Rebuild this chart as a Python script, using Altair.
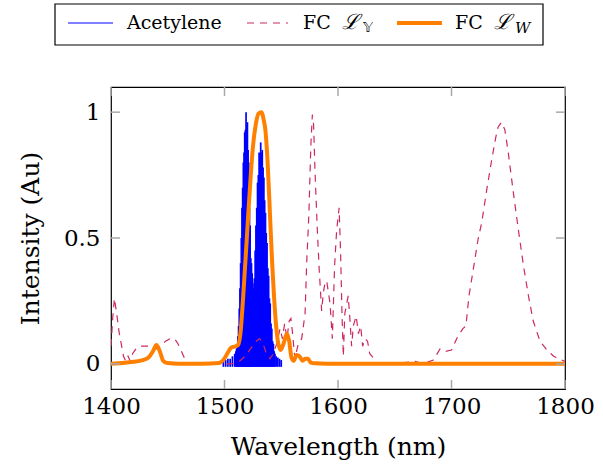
import altair as alt
import pandas as pd

# ---------------- data ----------------
# Acetylene absorption lines (wavelength nm, intensity)
acet_wl = [1499.0, 1501.0, 1503.0, 1505.0, 1507.0, 1509.0, 1510.0, 1510.6, 1511.2, 1511.8,
           1512.4, 1513.0, 1513.6, 1514.2, 1514.8, 1515.4, 1516.0, 1516.6, 1517.2, 1517.8,
           1518.4, 1519.0, 1519.6, 1520.2, 1520.8, 1521.4, 1522.0, 1522.6, 1523.2, 1523.8,
           1524.4, 1525.0, 1525.6, 1526.3, 1527.0, 1527.7, 1528.4, 1529.1, 1529.8, 1530.5,
           1531.2, 1531.9, 1532.6, 1533.3, 1534.0, 1534.7, 1535.4, 1536.1, 1536.8, 1537.5,
           1538.2, 1538.9, 1539.6, 1540.3, 1541.0, 1541.7, 1542.4, 1543.1, 1543.8, 1544.5,
           1545.5, 1547.0, 1548.5, 1550.0]
acet_val = [0.01, 0.015, 0.02, 0.02, 0.03, 0.04, 0.05, 0.06, 0.08, 0.11,
            0.15, 0.22, 0.30, 0.40, 0.50, 0.62, 0.70, 0.80, 0.84, 0.92,
            0.93, 1.00, 0.95, 0.96, 0.85, 0.80, 0.62, 0.55, 0.42, 0.40,
            0.36, 0.32, 0.30, 0.34, 0.45, 0.55, 0.62, 0.72, 0.75, 0.84,
            0.82, 0.88, 0.84, 0.85, 0.78, 0.74, 0.65, 0.60, 0.52, 0.48,
            0.38, 0.35, 0.26, 0.24, 0.16, 0.14, 0.09, 0.08, 0.05, 0.04,
            0.03, 0.025, 0.02, 0.015]

# FC L_Y (dashed)
fcy_wl = [1400, 1401.5, 1403, 1405, 1407, 1409, 1411, 1413, 1415, 1417, 1419, 1422, 1425, 1430,
          1435, 1440, 1444, 1448, 1452, 1456, 1459, 1462, 1465, 1468, 1475, 1490, 1505, 1512,
          1518, 1523, 1528, 1531, 1534, 1537, 1540, 1543, 1546, 1549, 1551, 1553, 1555, 1557,
          1558.5, 1560, 1562, 1565, 1568, 1571, 1572.4, 1574.4, 1576, 1577.4, 1578.5, 1579.7,
          1581.8, 1583.5, 1585.6, 1587, 1588.5, 1590, 1593, 1595, 1597, 1598.8, 1601, 1602.3,
          1603.5, 1604.7, 1606, 1609, 1610.6, 1612, 1613.5, 1616, 1618, 1620, 1621.7, 1623.8,
          1626, 1628, 1630, 1632.6, 1635.5, 1650, 1668, 1675, 1684, 1690, 1695, 1700, 1705.6,
          1710, 1712.7, 1715.4, 1719, 1723.6, 1726.6, 1731, 1735.4, 1739, 1741, 1744, 1747,
          1750, 1754.5, 1759, 1763.4, 1767.8, 1772, 1778, 1784, 1790, 1797, 1800]
fcy_val = [0.07, 0.18, 0.26, 0.20, 0.13, 0.08, 0.03, 0.01, 0.03, 0.01, 0.04, 0.06, 0.07, 0.07,
           0.07, 0.06, 0.07, 0.09, 0.10, 0.10, 0.08, 0.05, 0.02, 0.005, 0.0, 0.0, 0.0, 0.005,
           0.03, 0.06, 0.09, 0.10, 0.08, 0.04, 0.02, 0.04, 0.08, 0.14, 0.10, 0.16, 0.10, 0.17,
           0.18, 0.12, 0.02, 0.08, 0.10, 0.20, 0.40, 0.60, 0.86, 0.99, 0.95, 0.77,
           0.53, 0.37, 0.21, 0.28, 0.32, 0.33, 0.24, 0.10, 0.39, 0.53, 0.62, 0.44,
           0.20, 0.03, 0.20, 0.27, 0.17, 0.07, 0.15, 0.19, 0.12, 0.15, 0.07, 0.10,
           0.09, 0.04, 0.03, 0.015, 0.0, 0.0, 0.01, 0.0, 0.015, 0.06, 0.05, 0.055, 0.11,
           0.14, 0.15, 0.27, 0.37, 0.50, 0.56, 0.69, 0.81, 0.90, 0.94, 0.96, 0.93,
           0.84, 0.68, 0.53, 0.39, 0.27, 0.17, 0.09, 0.055, 0.03, 0.015, 0.01]

# FC L_W (thick orange)
fcw_wl = [1400, 1410, 1420, 1428, 1433, 1437, 1440, 1443, 1446, 1450, 1460, 1480, 1495, 1499,
          1503, 1506, 1510, 1512, 1514, 1516.5, 1519, 1521, 1523, 1525, 1527.5, 1530, 1532.5,
          1534.5, 1536, 1538, 1540, 1542, 1543.6, 1545.5, 1547.4, 1549.5, 1552, 1555, 1557,
          1559, 1561, 1563.5, 1566, 1569, 1571, 1573.5, 1576, 1580, 1600, 1700, 1800]
fcw_val = [0.0, 0.003, 0.008, 0.015, 0.025, 0.05, 0.075, 0.05, 0.012, 0.003, 0.0, 0.0, 0.003, 0.015,
           0.045, 0.065, 0.07, 0.075, 0.12, 0.27, 0.45, 0.60, 0.74, 0.86, 0.95, 0.995, 1.0,
           0.97, 0.93, 0.80, 0.60, 0.40, 0.27, 0.15, 0.08, 0.055, 0.08, 0.12, 0.09,
           0.025, 0.012, 0.035, 0.03, 0.012, 0.02, 0.02, 0.005, 0.002, 0.0, 0.0, 0.0]

x_ticks = [1400, 1500, 1600, 1700, 1800]
y_ticks = [0, 0.5, 1]

# ---------------- chart ----------------
W, H = 454, 302
FONT = "DejaVu Serif"
BLUE = "#0000ff"
CRIMSON = "#cc2a5e"
ORANGE = "#ff8000"
TICK = "#a8a8a8"

xs = alt.Scale(domain=[1400, 1800], nice=False, zero=False)
ys = alt.Scale(domain=[-0.1, 1.1], nice=False, zero=False)
xaxis = alt.Axis(values=x_ticks, format="d", title="Wavelength (nm)", ticks=False, domain=False,
                 grid=False, labelPadding=6, titlePadding=16, labelFlush=False,
                 labelFont=FONT, labelFontSize=23, labelColor="black",
                 titleFont=FONT, titleFontSize=25, titleFontWeight="normal", titleColor="black")
yaxis = alt.Axis(values=y_ticks, format="~g", title="Intensity (Au)", ticks=False, domain=False,
                 grid=False, labelPadding=11, titlePadding=20, labelFlush=False,
                 labelFont=FONT, labelFontSize=23, labelColor="black",
                 titleFont=FONT, titleFontSize=25, titleFontWeight="normal", titleColor="black")
X = alt.X("wl:Q", scale=xs, axis=xaxis)
Y = alt.Y("val:Q", scale=ys, axis=yaxis)

acet = pd.DataFrame({"wl": acet_wl, "val": acet_val})
acet["lo"] = -0.012
fcy = pd.DataFrame({"wl": fcy_wl, "val": fcy_val})
fcw = pd.DataFrame({"wl": fcw_wl, "val": fcw_val})
xt = pd.DataFrame({"wl": x_ticks})
yt = pd.DataFrame({"val": y_ticks})
one = pd.DataFrame({"k": [0]})

blue = alt.Chart(acet).mark_rule(color=BLUE, strokeWidth=1.7, clip=True).encode(
    x=X, y=Y, y2="lo:Q")
dashed = alt.Chart(fcy).mark_line(color=CRIMSON, strokeWidth=1.2, strokeDash=[7, 6], clip=True).encode(
    x=X, y=Y, order="wl:Q")
orange = alt.Chart(fcw).mark_line(color=ORANGE, strokeWidth=4, interpolate="monotone", clip=True).encode(
    x=X, y=Y, order="wl:Q")

tick_b = alt.Chart(xt).mark_rule(color=TICK, strokeWidth=1.5).encode(
    x=X, y=alt.value(H), y2=alt.value(H - 9))
tick_t = alt.Chart(xt).mark_rule(color=TICK, strokeWidth=1.5).encode(
    x=X, y=alt.value(0), y2=alt.value(9))
tick_l = alt.Chart(yt).mark_rule(color=TICK, strokeWidth=1.5).encode(
    y=Y, x=alt.value(0), x2=alt.value(9))
tick_r = alt.Chart(yt).mark_rule(color=TICK, strokeWidth=1.5).encode(
    y=Y, x=alt.value(W - 9), x2=alt.value(W))

# ---- manual legend (above plot) ----
LY = -64
box = alt.Chart(one).mark_rect(fill="white", stroke="black", strokeWidth=1.2).encode(
    x=alt.value(-56), x2=alt.value(432), y=alt.value(-83), y2=alt.value(-42))
l1 = alt.Chart(one).mark_rule(color=BLUE, strokeWidth=1.2).encode(
    x=alt.value(-43), x2=alt.value(2), y=alt.value(LY))
l2 = alt.Chart(one).mark_rule(color=CRIMSON, strokeWidth=1.2, strokeDash=[7, 6]).encode(
    x=alt.value(136), x2=alt.value(177), y=alt.value(LY))
l3 = alt.Chart(one).mark_rule(color=ORANGE, strokeWidth=4).encode(
    x=alt.value(286), x2=alt.value(331), y=alt.value(LY))


def txt(s, x, y, size=19, font=FONT, style="normal"):
    return alt.Chart(one).mark_text(text=s, align="left", baseline="middle", font=font,
                                    fontSize=size, fontStyle=style, color="black").encode(
        x=alt.value(x), y=alt.value(y))


legend = [box, l1, l2, l3,
          txt("Acetylene", 16, LY),
          txt("FC", 192, LY),
          txt("ℒ", 231, LY, size=21, font="DejaVu Serif", style="italic"),
          txt("𝕐", 252, LY + 5, size=14, font="DejaVu Sans"),
          txt("FC", 344, LY),
          txt("ℒ", 383, LY, size=21, font="DejaVu Serif", style="italic"),
          txt("W", 404, LY + 5, size=15, style="italic")]

chart = alt.layer(blue, dashed, orange, tick_b, tick_t, tick_l, tick_r, *legend).properties(
    width=W, height=H,
    background="white",
    autosize=alt.AutoSizeParams(type="none"),
    padding={"left": 111, "top": 87, "right": 38, "bottom": 78},
).configure_view(stroke="black", strokeWidth=1.2)

chart.save("out.html", embed_options={"renderer": "svg", "actions": False})
